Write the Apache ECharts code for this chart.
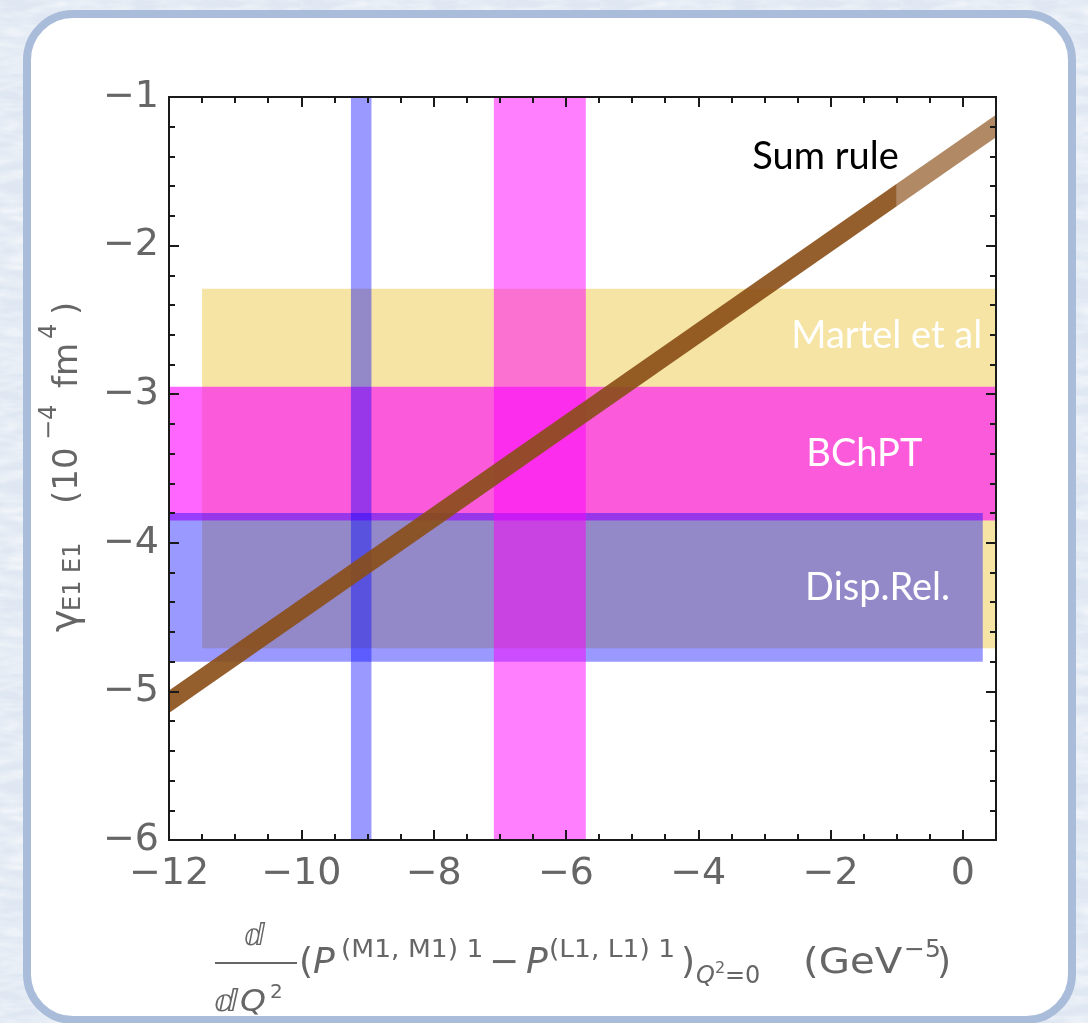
<!DOCTYPE html>
<html>
<head>
<meta charset="utf-8">
<script src="https://cdn.jsdelivr.net/npm/echarts@6/dist/echarts.min.js"></script>
<style>
  html, body { margin: 0; padding: 0; }
  body {
    width: 1088px; height: 1023px; overflow: hidden;
    background-color: #dfe7f2;
    background-image: url("data:image/svg+xml;utf8,<svg xmlns='http://www.w3.org/2000/svg' width='300' height='300'><filter id='n'><feTurbulence type='fractalNoise' baseFrequency='0.03 0.12' numOctaves='3' seed='4'/><feColorMatrix values='0 0 0 0 1  0 0 0 0 1  0 0 0 0 1  0 0 0 1.1 -0.35'/></filter><rect width='300' height='300' filter='url(%23n)'/></svg>");
  }
  #panel {
    position: absolute; left: 23px; top: 10px; width: 1053px; height: 1014px;
    box-sizing: border-box; background: #ffffff;
    border: 8px solid #a9bcd9; border-radius: 50px;
  }
  #chart { position: absolute; left: 0; top: 0; width: 1088px; height: 1023px; }
</style>
</head>
<body>
<div id="panel"></div>
<div id="chart"></div>
<script>
// Axis ranges and tick labels
const xRange = [-12, 0.5];
const yRange = [-6, -1];
const xTickLabels = [-12, -10, -8, -6, -4, -2, 0];
const yTickLabels = [-6, -5, -4, -3, -2, -1];

// Vertical bands (x extents, full height)
const dispRelVX = [-9.25, -8.94];
const bchptVX = [-7.09, -5.70];

// Horizontal bands
const martelX = [-11.5, 0.5];
const martelY = [-4.71, -2.29];
const bchptX = [-12, 0.5];
const bchptY = [-3.85, -2.95];
const dispRelX = [-12, 0.3];
const dispRelY = [-4.80, -3.80];

// Sum rule band: centre line and half-width
const sumRuleX = [-12, -1, 0.5];
const sumRuleY = [-5.07, -1.66, -1.195];
const sumRuleHalfWidth = 0.076;

// Band labels
const labelText = ['Sum rule', 'Martel et al', 'BChPT', 'Disp.Rel.'];
const labelX = [-0.97, 0.29, -1.49, -1.29];
const labelY = [-1.40, -2.61, -3.40, -4.30];

const minus = v => (v < 0 ? '\u2212' + Math.abs(v) : String(v));

function bandSeries(x, y, color) {
  return {
    type: 'custom', silent: true, clip: true,
    data: [[x[0], x[1], y[0], y[1]]],
    renderItem: (params, api) => {
      const a = api.coord([api.value(0), api.value(3)]);
      const b = api.coord([api.value(1), api.value(2)]);
      return { type: 'rect', shape: { x: a[0], y: a[1], width: b[0] - a[0], height: b[1] - a[1] },
               style: { fill: color } };
    }
  };
}

const segAlpha = [0.9, 0.66];
const sumRuleSegments = [];
for (let i = 0; i + 1 < sumRuleX.length; i++) {
  sumRuleSegments.push([sumRuleX[i], sumRuleY[i], sumRuleX[i + 1], sumRuleY[i + 1]]);
}

const labelColor = ['#000000', '#ffffff', '#ffffff', '#ffffff'];
const labelAlign = ['right', 'right', 'center', 'center'];

const FONT = '"DejaVu Sans", sans-serif';
const LAB = 'Lato, "Open Sans", sans-serif';
const GREY = '#666666';

function t(text, x, y, size, italic, sx) {
  return { type: 'text', x: x, y: y, scaleX: sx || 1, silent: true,
           style: { text: text, fill: GREY, font: (italic ? 'italic ' : '') + size + 'px ' + FONT,
                    align: 'left', verticalAlign: 'middle' } };
}

const axisLine = { show: true, onZero: false, lineStyle: { color: '#1a1a1a', width: 2 } };
function xAx(pos, interval, len, labels) {
  return {
    type: 'value', position: pos, min: xRange[0], max: xRange[1], interval: interval, z: 10,
    axisLine: axisLine,
    axisTick: { show: true, inside: true, length: len, lineStyle: { color: '#1a1a1a', width: 2 } },
    axisLabel: labels ? {
      show: true, margin: 15, color: GREY, fontSize: 38, fontFamily: FONT,
      formatter: v => (xTickLabels.indexOf(v) >= 0 ? minus(v) : '')
    } : { show: false },
    splitLine: { show: false }
  };
}
function yAx(pos, labels) {
  return {
    type: 'value', position: pos, min: yRange[0], max: yRange[1], interval: 1, z: 10,
    axisLine: axisLine,
    axisTick: { show: true, inside: true, length: 10, lineStyle: { color: '#1a1a1a', width: 2 } },
    minorTick: { show: true, splitNumber: 5, length: 6, lineStyle: { color: '#1a1a1a', width: 2 } },
    axisLabel: labels ? {
      show: true, margin: 10, color: GREY, fontSize: 38, fontFamily: FONT,
      formatter: v => (yTickLabels.indexOf(v) >= 0 ? minus(v) : '')
    } : { show: false },
    splitLine: { show: false }
  };
}

const chart = echarts.init(document.getElementById('chart'), null, { renderer: 'canvas' });
chart.setOption({
  animation: false,
  backgroundColor: 'transparent',
  grid: { left: 169, top: 97, right: 92, bottom: 183 },
  xAxis: [xAx('bottom', 0.5, 6, false), xAx('bottom', 2, 10, true),
          xAx('top', 0.5, 6, false), xAx('top', 2, 10, false)],
  yAxis: [yAx('left', true), yAx('right', false)],
  series: [
    bandSeries(martelX, martelY, 'rgba(236,205,90,0.55)'),
    bandSeries(bchptX, bchptY, 'rgba(255,0,255,0.6)'),
    bandSeries(dispRelX, dispRelY, 'rgba(0,0,255,0.4)'),
    bandSeries(dispRelVX, yRange, 'rgba(0,0,255,0.4)'),
    bandSeries(bchptVX, yRange, 'rgba(255,0,255,0.5)'),
    {
      type: 'custom', silent: true, clip: true,
      data: sumRuleSegments,
      renderItem: (params, api) => {
        const h = sumRuleHalfWidth;
        const x0 = api.value(0), y0 = api.value(1), x1 = api.value(2), y1 = api.value(3);
        const pts = [api.coord([x0, y0 + h]), api.coord([x1, y1 + h]),
                     api.coord([x1, y1 - h]), api.coord([x0, y0 - h])];
        return { type: 'polygon', shape: { points: pts },
                 style: { fill: 'rgba(137,78,22,' + segAlpha[params.dataIndex] + ')' } };
      }
    },
    {
      type: 'custom', silent: true, clip: false,
      data: labelX.map((x, i) => [x, labelY[i]]),
      renderItem: (params, api) => {
        const i = params.dataIndex;
        const p = api.coord([api.value(0), api.value(1)]);
        return { type: 'text', x: p[0], y: p[1],
                 style: { text: labelText[i], fill: labelColor[i], font: '38px ' + LAB,
                          align: labelAlign[i], verticalAlign: 'middle' } };
      }
    }
  ],
  graphic: [
    // y-axis title, reading bottom to top
    {
      type: 'group', x: 80, y: 632, rotation: Math.PI / 2, silent: true,
      children: [
        t('\u03b3', 0, -13, 38, false),
        t('E1 E1', 21, -6, 24, false),
        t('(10', 128, -12, 34, false),
        t('\u22124', 192, -30, 24, false),
        t('fm', 244, -12, 34, false),
        t('4', 293, -30, 24, false),
        t(')', 317, -12, 34, false)
      ]
    },
    // x-axis title: d/dQ² ( P^(M1,M1)1 − P^(L1,L1)1 )_{Q²=0}  (GeV^−5)
    t('\u2146', 244, 937, 30, false),
    { type: 'line', silent: true, shape: { x1: 215, y1: 963, x2: 297, y2: 963 },
      style: { stroke: GREY, lineWidth: 2 } },
    t('\u2146', 214, 1003, 30, false, 1.15),
    t('Q', 240, 1003, 30, true, 1.1),
    t('2', 270, 993, 20, false),
    t('(', 299, 964, 36, false),
    t('P', 313, 964, 36, true),
    t('(M1, M1) 1', 341, 950, 25, false, 1.06),
    t('\u2212', 489, 964, 36, false),
    t('P', 526, 964, 36, true),
    t('(L1, L1) 1', 549, 950, 25, false, 1.06),
    t(')', 681, 964, 36, false),
    t('Q', 696, 977, 24, true),
    t('2', 715, 969, 16, false),
    t('=0', 725, 977, 24, false),
    t('(GeV', 803, 964, 36, false, 1.12),
    t('\u22125', 904, 950, 25, false),
    t(')', 937, 964, 36, false)
  ]
});
</script>
</body>
</html>
